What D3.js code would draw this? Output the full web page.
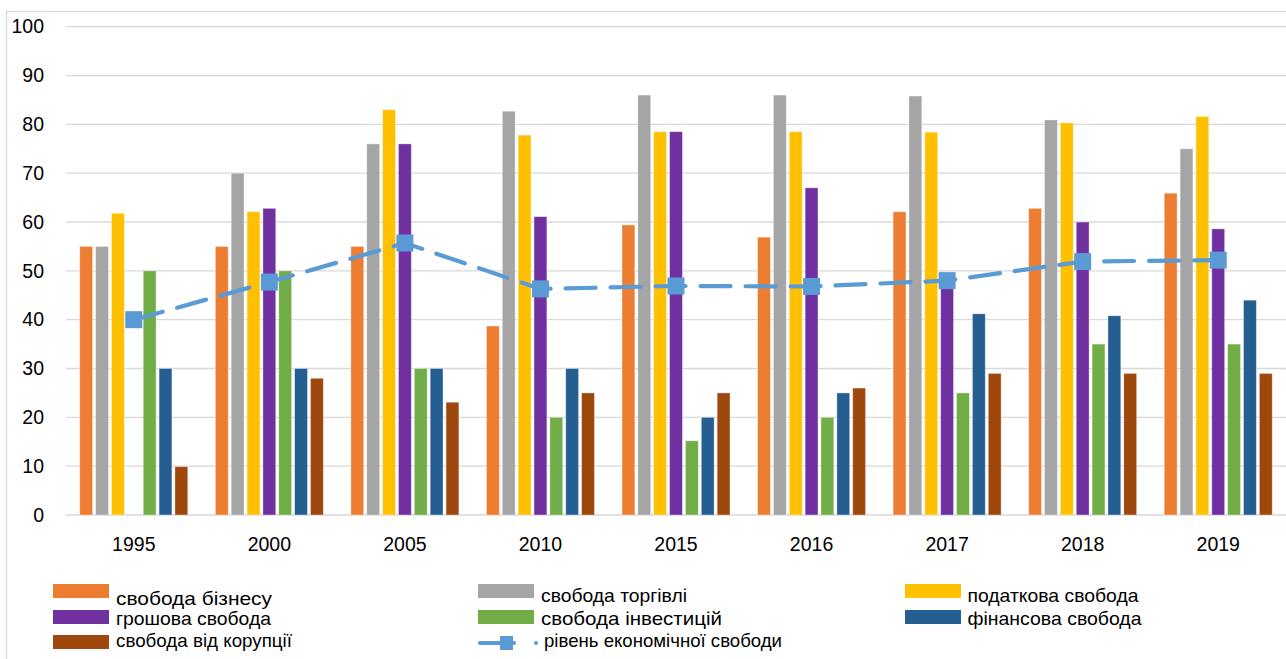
<!DOCTYPE html>
<html><head><meta charset="utf-8">
<script src="https://cdn.jsdelivr.net/npm/d3@7"></script>
<style>body{margin:0;background:#fff;}svg{display:block;font-family:"Liberation Sans",Arial,sans-serif;}</style>
</head><body>
<svg id="c" width="1286" height="659"></svg>
<script>
const years = ["1995","2000","2005","2010","2015","2016","2017","2018","2019"];
const seriesNames = ["свобода бізнесу","свобода торгівлі","податкова свобода","грошова свобода","свобода інвестицій","фінансова свобода","свобода від корупції"];
const seriesColors = ["#ED7D31","#A5A5A5","#FFC000","#7030A0","#70AD47","#255E91","#9E480E"];
const businessFreedom   = [55, 55, 55, 38.7, 59.4, 56.9, 62.1, 62.8, 65.9];
const tradeFreedom      = [55, 70, 76, 82.7, 86, 86, 85.8, 80.9, 75];
const fiscalFreedom     = [61.8, 62.1, 83, 77.8, 78.5, 78.5, 78.4, 80.3, 81.6];
const monetaryFreedom   = [null, 62.8, 76, 61.1, 78.5, 67, 48, 60, 58.6];
const investmentFreedom = [50, 50, 30, 20, 15.2, 20, 25, 35, 35];
const financialFreedom  = [30, 30, 30, 30, 20, 25, 41.2, 40.8, 44];
const corruptionFreedom = [9.9, 28, 23.1, 25, 25, 26, 29, 29, 29];
const lineName = "рівень економічної свободи";
const economicFreedom   = [40, 47.7, 55.7, 46.3, 46.9, 46.8, 48, 51.9, 52.2];
const yTicks = [0,10,20,30,40,50,60,70,80,90,100];

const seriesValues = [businessFreedom, tradeFreedom, fiscalFreedom, monetaryFreedom, investmentFreedom, financialFreedom, corruptionFreedom];

(function(){
const svg = d3.select("#c");
const pLeft = 66, pRight = 1286, pTop = 26.7, pBottom = 515;

// chart border
svg.append("rect").attr("x",6.5).attr("y",11.5).attr("width",1300).attr("height",700)
  .attr("fill","none").attr("stroke","#d9d9d9").attr("stroke-width",1.3);

const y = d3.scaleLinear().domain([0,100]).range([pBottom, pTop]);
const x0 = d3.scaleBand().domain(years).range([pLeft, pRight]).padding(0);
const groupW = 108;
const x1 = d3.scaleBand().domain(seriesNames).range([0, groupW]).paddingInner(0.19).paddingOuter(0);
const off = (x0.bandwidth() - groupW) / 2;

// gridlines
svg.append("g").selectAll("line").data(yTicks).join("line")
  .attr("x1", pLeft).attr("x2", pRight).attr("y1", d => y(d)).attr("y2", d => y(d))
  .attr("stroke","#d9d9d9").attr("stroke-width",1.3);

// y axis labels
const yAxis = d3.axisLeft(y).tickValues(yTicks).tickSize(0).tickPadding(0);
const gy = svg.append("g").attr("transform",`translate(44,0)`).call(yAxis);
gy.select(".domain").remove();
gy.selectAll("text").attr("font-size","19.5px").attr("fill","#000").attr("font-family","'Liberation Sans',Arial,sans-serif");

// x axis labels
const xAxis = d3.axisBottom(x0).tickSize(0).tickPadding(0);
const gx = svg.append("g").attr("transform",`translate(0,537)`).call(xAxis);
gx.select(".domain").remove();
gx.selectAll("text").attr("font-size","19.5px").attr("fill","#000").attr("font-family","'Liberation Sans',Arial,sans-serif");

// bars
seriesNames.forEach((name, si) => {
  const data = years.map((yr, i) => ({yr, v: seriesValues[si][i]})).filter(d => d.v != null);
  svg.append("g").selectAll("rect").data(data).join("rect")
    .attr("x", d => x0(d.yr) + off + x1(name))
    .attr("width", x1.bandwidth())
    .attr("y", d => y(d.v))
    .attr("height", d => y(0) - y(d.v))
    .attr("fill", seriesColors[si])
    .attr("stroke", "#ffffff").attr("stroke-opacity", 0.45).attr("stroke-width", 0.8);
});

// line
const lineColor = "#5B9BD5";
const cx = yr => x0(yr) + x0.bandwidth()/2;
const lineGen = d3.line().x((d,i) => cx(years[i])).y(d => y(d));
svg.append("path").datum(economicFreedom).attr("d", lineGen)
  .attr("fill","none").attr("stroke",lineColor).attr("stroke-width",4.2)
  .attr("stroke-linecap","round").attr("stroke-dasharray","30,15");
svg.append("g").selectAll("rect").data(economicFreedom).join("rect")
  .attr("x",(d,i)=>cx(years[i])-8.5).attr("y",d=>y(d)-8.5)
  .attr("width",17).attr("height",17).attr("fill",lineColor);

// legend
const legend = [
  {name: seriesNames[0], color: seriesColors[0], sx: 53, sy: 584, tx: 116, ty: 605, w: 156},
  {name: seriesNames[1], color: seriesColors[1], sx: 478, sy: 584, tx: 541, ty: 602, w: 146},
  {name: seriesNames[2], color: seriesColors[2], sx: 905, sy: 584, tx: 967.5, ty: 602, w: 171},
  {name: seriesNames[3], color: seriesColors[3], sx: 53, sy: 610, tx: 116, ty: 625, w: 155},
  {name: seriesNames[4], color: seriesColors[4], sx: 478, sy: 610, tx: 541, ty: 625, w: 181},
  {name: seriesNames[5], color: seriesColors[5], sx: 905, sy: 610, tx: 967.5, ty: 625, w: 174},
  {name: seriesNames[6], color: seriesColors[6], sx: 53, sy: 635, tx: 116, ty: 647, w: 176},
];
const lg = svg.append("g");
legend.forEach(l => {
  lg.append("rect").attr("x",l.sx).attr("y",l.sy).attr("width",56).attr("height",14).attr("fill",l.color);
  lg.append("text").attr("x",l.tx).attr("y",l.ty).attr("font-size","19px").attr("fill","#000")
    .attr("textLength",l.w).attr("lengthAdjust","spacingAndGlyphs").text(l.name);
});
// line legend
lg.append("line").attr("x1",480).attr("x2",514).attr("y1",643).attr("y2",643)
  .attr("stroke",lineColor).attr("stroke-width",4.2).attr("stroke-linecap","round");
lg.append("rect").attr("x",500).attr("y",636).attr("width",13).attr("height",14).attr("fill",lineColor);
lg.append("circle").attr("cx",536).attr("cy",643).attr("r",2).attr("fill",lineColor);
lg.append("text").attr("x",544).attr("y",647).attr("font-size","19px").attr("fill","#000")
  .attr("textLength",238).attr("lengthAdjust","spacingAndGlyphs").text(lineName);
})();
</script>
</body></html>
